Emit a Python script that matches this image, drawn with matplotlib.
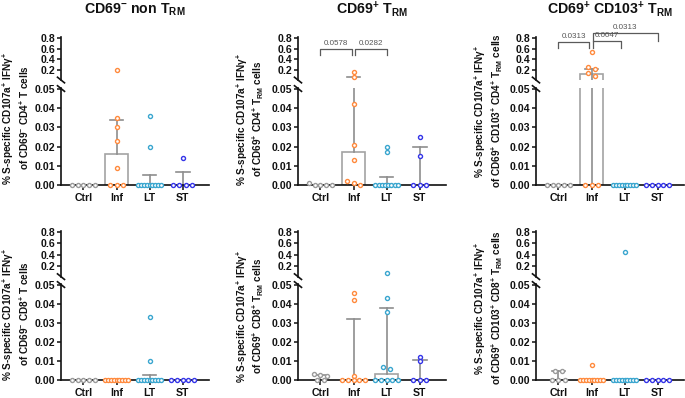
import numpy as np
import matplotlib
matplotlib.use('Agg')
import matplotlib.pyplot as plt
from matplotlib.lines import Line2D

plt.rcParams['font.family'] = ['Liberation Sans', 'DejaVu Sans']
plt.rcParams['font.weight'] = 'bold'
plt.rcParams['mathtext.fontset'] = 'custom'
plt.rcParams['mathtext.rm'] = 'Liberation Sans:bold'
plt.rcParams['mathtext.bf'] = 'Liberation Sans:bold'
plt.rcParams['mathtext.it'] = 'Liberation Sans:bold'
plt.rcParams['mathtext.default'] = 'regular'

# ---------------- data ----------------
groups = ['Ctrl', 'Inf', 'LT', 'ST']
colors = ['#9a9a9a', '#ff8a3d', '#3aa6cf', '#3535e8']

titles = ['CD69$^{-}$ non T$_{RM}$', 'CD69$^{+}$ T$_{RM}$', 'CD69$^{+}$ CD103$^{+}$ T$_{RM}$']
ylabel_line1 = '% S-specific CD107a$^{+}$ IFNγ$^{+}$'
ylabel_line2 = ['of CD69$^{-}$ CD4$^{+}$ T cells',
                'of CD69$^{+}$ CD4$^{+}$ T$_{RM}$ cells',
                'of CD69$^{+}$ CD103$^{+}$ CD4$^{+}$ T$_{RM}$ cells',
                'of CD69$^{-}$ CD8$^{+}$ T cells',
                'of CD69$^{+}$ CD8$^{+}$ T$_{RM}$ cells',
                'of CD69$^{+}$ CD103$^{+}$ CD8$^{+}$ T$_{RM}$ cells']

# individual points per group (Ctrl, Inf, LT, ST)
cd4_nontrm_pts = [[0, 0, 0, 0, 0],
                  [0.2, 0.035, 0.030, 0.023, 0.009, 0, 0, 0],
                  [0.036, 0.020, 0, 0, 0, 0, 0, 0, 0, 0, 0],
                  [0.014, 0, 0, 0, 0]]
cd4_trm_pts = [[0.001, 0, 0, 0, 0],
               [0.17, 0.075, 0.042, 0.021, 0.013, 0.002, 0.001, 0],
               [0.020, 0.017, 0, 0, 0, 0, 0, 0, 0, 0],
               [0.025, 0.015, 0, 0, 0]]
cd4_cd103_pts = [[0, 0, 0, 0, 0],
                 [0.53, 0.255, 0.22, 0.145, 0.09, 0, 0, 0],
                 [0, 0, 0, 0, 0, 0, 0, 0, 0],
                 [0, 0, 0, 0, 0]]
cd8_nontrm_pts = [[0, 0, 0, 0, 0],
                  [0, 0, 0, 0, 0, 0, 0, 0, 0],
                  [0.033, 0.010, 0, 0, 0, 0, 0, 0, 0, 0, 0],
                  [0, 0, 0, 0, 0]]
cd8_trm_pts = [[0.003, 0.0025, 0.002, 0, 0],
               [0.046, 0.042, 0.002, 0, 0, 0, 0, 0],
               [0.074, 0.043, 0.036, 0.007, 0.006, 0, 0, 0, 0, 0],
               [0.012, 0.010, 0, 0, 0]]
cd8_cd103_pts = [[0.005, 0.005, 0, 0, 0],
                 [0.008, 0, 0, 0, 0, 0, 0, 0, 0, 0],
                 [0.45, 0, 0, 0, 0, 0, 0, 0, 0, 0],
                 [0, 0, 0, 0, 0]]

# medians (bar heights) and interquartile whiskers
cd4_nontrm_med = [0, 0.016, 0, 0]
cd4_nontrm_q1 = [0, 0.016, 0, 0]
cd4_nontrm_q3 = [0, 0.034, 0.005, 0.007]
cd4_trm_med = [0, 0.017, 0, 0]
cd4_trm_q1 = [0, 0.017, 0, 0]
cd4_trm_q3 = [0, 0.075, 0.004, 0.020]
cd4_cd103_med = [0, 0.125, 0, 0]
cd4_cd103_q1 = [0, 0.0, 0, 0]
cd4_cd103_q3 = [0, 0.22, 0, 0]
cd8_nontrm_med = [0, 0, 0, 0]
cd8_nontrm_q1 = [0, 0, 0, 0]
cd8_nontrm_q3 = [0, 0, 0.0025, 0]
cd8_trm_med = [0, 0, 0.003, 0]
cd8_trm_q1 = [0, 0, 0.003, 0]
cd8_trm_q3 = [0.0025, 0.032, 0.038, 0.0105]
cd8_cd103_med = [0, 0, 0, 0]
cd8_cd103_q1 = [0, 0, 0, 0]
cd8_cd103_q3 = [0.005, 0, 0, 0]

# p-value brackets: (group a, group b, label)
cd4_trm_pvals = [(0, 1, '0.0578'), (1, 2, '0.0282')]
cd4_cd103_pvals = [(0, 1, '0.0313'), (1, 2, '0.0047'), (1, 3, '0.0313')]

panels = [
    (0, 0, cd4_nontrm_pts, cd4_nontrm_med, cd4_nontrm_q1, cd4_nontrm_q3, []),
    (0, 1, cd4_trm_pts, cd4_trm_med, cd4_trm_q1, cd4_trm_q3, cd4_trm_pvals),
    (0, 2, cd4_cd103_pts, cd4_cd103_med, cd4_cd103_q1, cd4_cd103_q3, cd4_cd103_pvals),
    (1, 0, cd8_nontrm_pts, cd8_nontrm_med, cd8_nontrm_q1, cd8_nontrm_q3, []),
    (1, 1, cd8_trm_pts, cd8_trm_med, cd8_trm_q1, cd8_trm_q3, []),
    (1, 2, cd8_cd103_pts, cd8_cd103_med, cd8_cd103_q1, cd8_cd103_q3, []),
]

# ---------------- layout (pixels) ----------------
W, H = 685, 398
fig = plt.figure(figsize=(W / 100, H / 100), dpi=100)
X0 = [61, 298, 536]
AXW = 148
# row: y of 0.8, 0.2, 0.05, 0.00
ROWS = [(38, 70, 89, 185), (232, 266, 285, 380)]
TOP_LO, TOP_HI = 0.012, 0.82
BOT_HI = 0.0505
XLIM = (-0.68, 3.8)
LINE_C = '#111111'
GREY_BAR = '#a3a3a3'
GREY_ERR = '#8e8e8e'
BAR_W = 0.68
CAP_W = 0.42
MS = 2.9

LAB1_X = [8, 242, 480]
LAB2_X = [24, 258, 497]
LAB_Y = [[118, 119, 111], [314, 316, 308]]


def fx(x):
    return x / W


def fy(y):
    return 1 - y / H


def spread(vals, ypix):
    order = np.argsort(-np.asarray(vals, float), kind='stable')
    offs = np.zeros(len(vals))
    groups_ = []
    cur = [order[0]]
    for a, b in zip(order[:-1], order[1:]):
        if abs(ypix[b] - ypix[a]) < 3.5:
            cur.append(b)
        else:
            groups_.append(cur)
            cur = [b]
    groups_.append(cur)
    for g in groups_:
        n = len(g)
        if n > 1:
            step = min(0.2, 0.68 / (n - 1))
            for k, idx in enumerate(g):
                offs[idx] = (k - (n - 1) / 2) * step
    return offs


for (r, c, pts, med, q1, q3, pvals) in panels:
    y08, y02, y005, y0 = ROWS[r]
    kt = (y02 - y08) / 0.6
    kb = (y0 - y005) / 0.05
    t_top = y02 - (TOP_HI - 0.2) * kt
    t_bot = y02 + (0.2 - TOP_LO) * kt
    b_top = y0 - BOT_HI * kb
    x0 = X0[c]
    axT = fig.add_axes([fx(x0), fy(t_bot), AXW / W, (t_bot - t_top) / H])
    axB = fig.add_axes([fx(x0), fy(y0), AXW / W, (y0 - b_top) / H])
    axT.set_ylim(TOP_LO, TOP_HI)
    axB.set_ylim(0, BOT_HI)
    for ax in (axT, axB):
        ax.set_xlim(*XLIM)
        ax.patch.set_alpha(0)
        for s in ('top', 'right'):
            ax.spines[s].set_visible(False)
        ax.spines['left'].set_linewidth(1.2)
        ax.spines['left'].set_color(LINE_C)
        ax.tick_params(axis='y', direction='out', length=3.2, width=1.1,
                       pad=1.2, labelsize=7.6, colors=LINE_C)
    axT.spines['bottom'].set_visible(False)
    axT.set_xticks([])
    axT.set_yticks([0.2, 0.4, 0.6, 0.8])
    axT.set_yticklabels(['0.2', '0.4', '0.6', '0.8'])
    axB.spines['bottom'].set_linewidth(1.2)
    axB.spines['bottom'].set_color(LINE_C)
    axB.set_yticks([0, 0.01, 0.02, 0.03, 0.04, 0.05])
    axB.set_yticklabels(['0.00', '0.01', '0.02', '0.03', '0.04', '0.05'])
    axB.set_xticks(range(4))
    axB.set_xticklabels(groups)
    axB.tick_params(axis='x', direction='out', length=3.5, width=1.1,
                    pad=2.0, labelsize=7.6, colors=LINE_C)

    far_below = -0.3
    for i in range(4):
        # bar (median)
        if med[i] > 0:
            axB.bar(i, med[i], width=BAR_W, facecolor='none',
                    edgecolor=GREY_BAR, linewidth=1.2, zorder=1)
            if med[i] > BOT_HI:
                axT.bar(i, med[i] - far_below, bottom=far_below, width=BAR_W,
                        facecolor='none', edgecolor=GREY_BAR, linewidth=1.2, zorder=1)
        # whiskers (interquartile range)
        if q3[i] > q1[i]:
            axB.plot([i, i], [q1[i], q3[i]], color=GREY_ERR, lw=1.2, zorder=2)
            if q3[i] <= BOT_HI:
                axB.plot([i - CAP_W / 2, i + CAP_W / 2], [q3[i], q3[i]],
                         color=GREY_ERR, lw=1.2, zorder=2)
            else:
                lo = q1[i] if q1[i] > BOT_HI else far_below
                axT.plot([i, i], [lo, q3[i]], color=GREY_ERR, lw=1.2, zorder=2)
                axT.plot([i - CAP_W / 2, i + CAP_W / 2], [q3[i], q3[i]],
                         color=GREY_ERR, lw=1.2, zorder=2)
        # points
        vals = np.asarray(pts[i], float)
        ypix = np.where(vals > 0.05, y02 - (vals - 0.2) * kt, y0 - vals * kb)
        xs = i + spread(vals, ypix)
        mT = vals > BOT_HI
        mB = vals <= BOT_HI
        if mT.any():
            axT.plot(xs[mT], vals[mT], 'o', ms=MS, mfc='white', mec=colors[i],
                     mew=1.0, clip_on=False, zorder=4, linestyle='none')
        axB.plot(xs[mB], vals[mB], 'o', ms=MS, mfc='white', mec=colors[i],
                 mew=1.0, clip_on=False, zorder=4, linestyle='none')

    # p-value brackets
    if pvals:
        if len(pvals) == 2:
            specs = [(pvals[0][0], pvals[0][1] - 0.05, 0.59, 0.48, 0.48, pvals[0][2]),
                     (pvals[1][0] + 0.05, pvals[1][1], 0.59, 0.48, 0.48, pvals[1][2])]
        else:
            specs = [(pvals[0][0], pvals[0][1] - 0.08, 0.72, 0.62, 0.62, pvals[0][2]),
                     (pvals[1][0] + 0.05, pvals[1][1] - 0.1, 0.74, 0.62, 0.62, pvals[1][2]),
                     (pvals[2][0] + 0.05, pvals[2][1], 0.89, 0.74, 0.74, pvals[2][2])]
        for (xa, xb, yb, ya1, ya2, lab) in specs:
            axT.plot([xa, xa, xb, xb], [ya1, yb, yb, ya2], color='#5a5a5a',
                     lw=0.9, clip_on=False, zorder=5)
            axT.text((xa + xb) / 2, yb + 0.035, lab, ha='center', va='bottom',
                     fontsize=5.8, fontweight='normal', color='#555555',
                     clip_on=False)

    # break marks
    for yc in (t_bot, b_top + 0.5):
        fig.add_artist(Line2D([fx(x0 - 3.5), fx(x0 + 3.5)],
                              [fy(yc - 2.8), fy(yc + 2.8)],
                              transform=fig.transFigure, color=LINE_C, lw=1.2))

    # titles
    if r == 0:
        fig.text(fx(x0 + AXW / 2), fy(14), titles[c], ha='center',
                 va='baseline', fontsize=10.2, fontweight='bold', color=LINE_C)
    # y labels
    fig.text(fx(LAB1_X[c]), fy(LAB_Y[r][c]), ylabel_line1, rotation=90,
             ha='center', va='center', fontsize=7.2, color=LINE_C)
    fig.text(fx(LAB2_X[c]), fy(LAB_Y[r][c]), ylabel_line2[r * 3 + c], rotation=90,
             ha='center', va='center', fontsize=7.2, color=LINE_C)

fig.savefig('out.png', dpi=100)
